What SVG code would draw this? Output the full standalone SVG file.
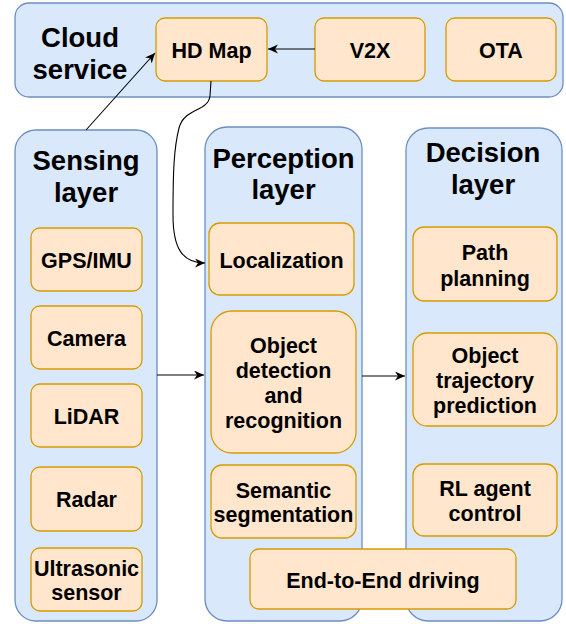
<svg xmlns="http://www.w3.org/2000/svg" width="566" height="624" viewBox="0 0 566 624">
<defs>
<marker id="arr" markerUnits="userSpaceOnUse" markerWidth="12" markerHeight="10" refX="10" refY="4.5" orient="auto">
<path d="M0,0 L10,4.5 L0,9 L3,4.5 z" fill="#000"/>
</marker>
</defs>
<style>
.cont{fill:#dae8fc;stroke:#6c8ebf;stroke-width:1.3}
.node{fill:#ffe6cc;stroke:#d79b00;stroke-width:1.3}
.title{font-family:"Liberation Sans",Arial,sans-serif;font-weight:bold;font-size:27.5px;fill:#000;text-anchor:middle}
.lbl{font-family:"Liberation Sans",Arial,sans-serif;font-weight:bold;font-size:21.5px;fill:#000;text-anchor:middle}
.edge{fill:none;stroke:#000;stroke-width:1.1}
</style>
<rect width="566" height="624" fill="#fff"/>

<g id="cloud">
<rect class="cont" x="15" y="3" width="548" height="94" rx="14"/>
<text class="title" x="80" y="47">Cloud</text>
<text class="title" x="80" y="79">service</text>
</g>
<g id="sensing">
<rect class="cont" x="15" y="130" width="142" height="491" rx="21"/>
<text class="title" x="86" y="170">Sensing</text>
<text class="title" x="86" y="202">layer</text>
</g>
<g id="perception">
<rect class="cont" x="205" y="127" width="157" height="494" rx="22"/>
<text class="title" x="283.5" y="168">Perception</text>
<text class="title" x="283.5" y="199">layer</text>
</g>
<g id="decision">
<rect class="cont" x="406" y="128" width="156" height="493" rx="22"/>
<text class="title" x="483" y="162">Decision</text>
<text class="title" x="483" y="194">layer</text>
</g>

<g id="hdmap"><rect class="node" x="156" y="18" width="111" height="63" rx="9"/><text class="lbl" x="211.5" y="58">HD Map</text></g>
<g id="v2x"><rect class="node" x="315" y="18" width="110" height="63" rx="9"/><text class="lbl" x="370" y="58">V2X</text></g>
<g id="ota"><rect class="node" x="446" y="18" width="110" height="63" rx="9"/><text class="lbl" x="501" y="58">OTA</text></g>

<g id="gps"><rect class="node" x="31" y="228" width="111" height="63" rx="9"/><text class="lbl" x="86.5" y="267.5">GPS/IMU</text></g>
<g id="camera"><rect class="node" x="31" y="306" width="111" height="63" rx="9"/><text class="lbl" x="86.5" y="346">Camera</text></g>
<g id="lidar"><rect class="node" x="31" y="384" width="111" height="63" rx="9"/><text class="lbl" x="86.5" y="424">LiDAR</text></g>
<g id="radar"><rect class="node" x="31" y="467" width="111" height="64" rx="9"/><text class="lbl" x="86.5" y="507">Radar</text></g>
<g id="ultrasonic"><rect class="node" x="31" y="548" width="111" height="63" rx="9"/><text class="lbl" x="86.5" y="576">Ultrasonic</text><text class="lbl" x="86.5" y="600">sensor</text></g>

<g id="localization"><rect class="node" x="209" y="223" width="145" height="72" rx="11"/><text class="lbl" x="281.5" y="267.5">Localization</text></g>
<g id="objdet"><rect class="node" x="211" y="311" width="145" height="142" rx="21"/><text class="lbl" x="283.5" y="353">Object</text><text class="lbl" x="283.5" y="378">detection</text><text class="lbl" x="283.5" y="403">and</text><text class="lbl" x="283.5" y="428">recognition</text></g>
<g id="semantic"><rect class="node" x="211" y="465" width="145" height="73" rx="11"/><text class="lbl" x="283.5" y="498">Semantic</text><text class="lbl" x="283.5" y="522">segmentation</text></g>

<g id="path"><rect class="node" x="413" y="227" width="144" height="74" rx="11"/><text class="lbl" x="485" y="260">Path</text><text class="lbl" x="485" y="286">planning</text></g>
<g id="trajectory"><rect class="node" x="413" y="333" width="144" height="93" rx="14"/><text class="lbl" x="485" y="363">Object</text><text class="lbl" x="485" y="388">trajectory</text><text class="lbl" x="485" y="413">prediction</text></g>
<g id="rl"><rect class="node" x="413" y="464" width="144" height="72" rx="11"/><text class="lbl" x="485" y="496">RL agent</text><text class="lbl" x="485" y="521">control</text></g>

<g id="e2e"><rect class="node" x="250" y="549" width="266" height="60" rx="9"/><text class="lbl" x="383" y="588">End-to-End driving</text></g>

<g id="connectors">
<path class="edge" d="M315,49 L268,49" marker-end="url(#arr)"/>
<path class="edge" d="M86,130 L155,53" marker-end="url(#arr)"/>
<path class="edge" d="M211,81 L210,96 C208,112 184,108 179,128 C174,148 173,170 173,215 C173,248 182,263 205,263" marker-end="url(#arr)"/>
<path class="edge" d="M157,375 L204,375" marker-end="url(#arr)"/>
<path class="edge" d="M362,376 L405,376" marker-end="url(#arr)"/>
</g>
</svg>
